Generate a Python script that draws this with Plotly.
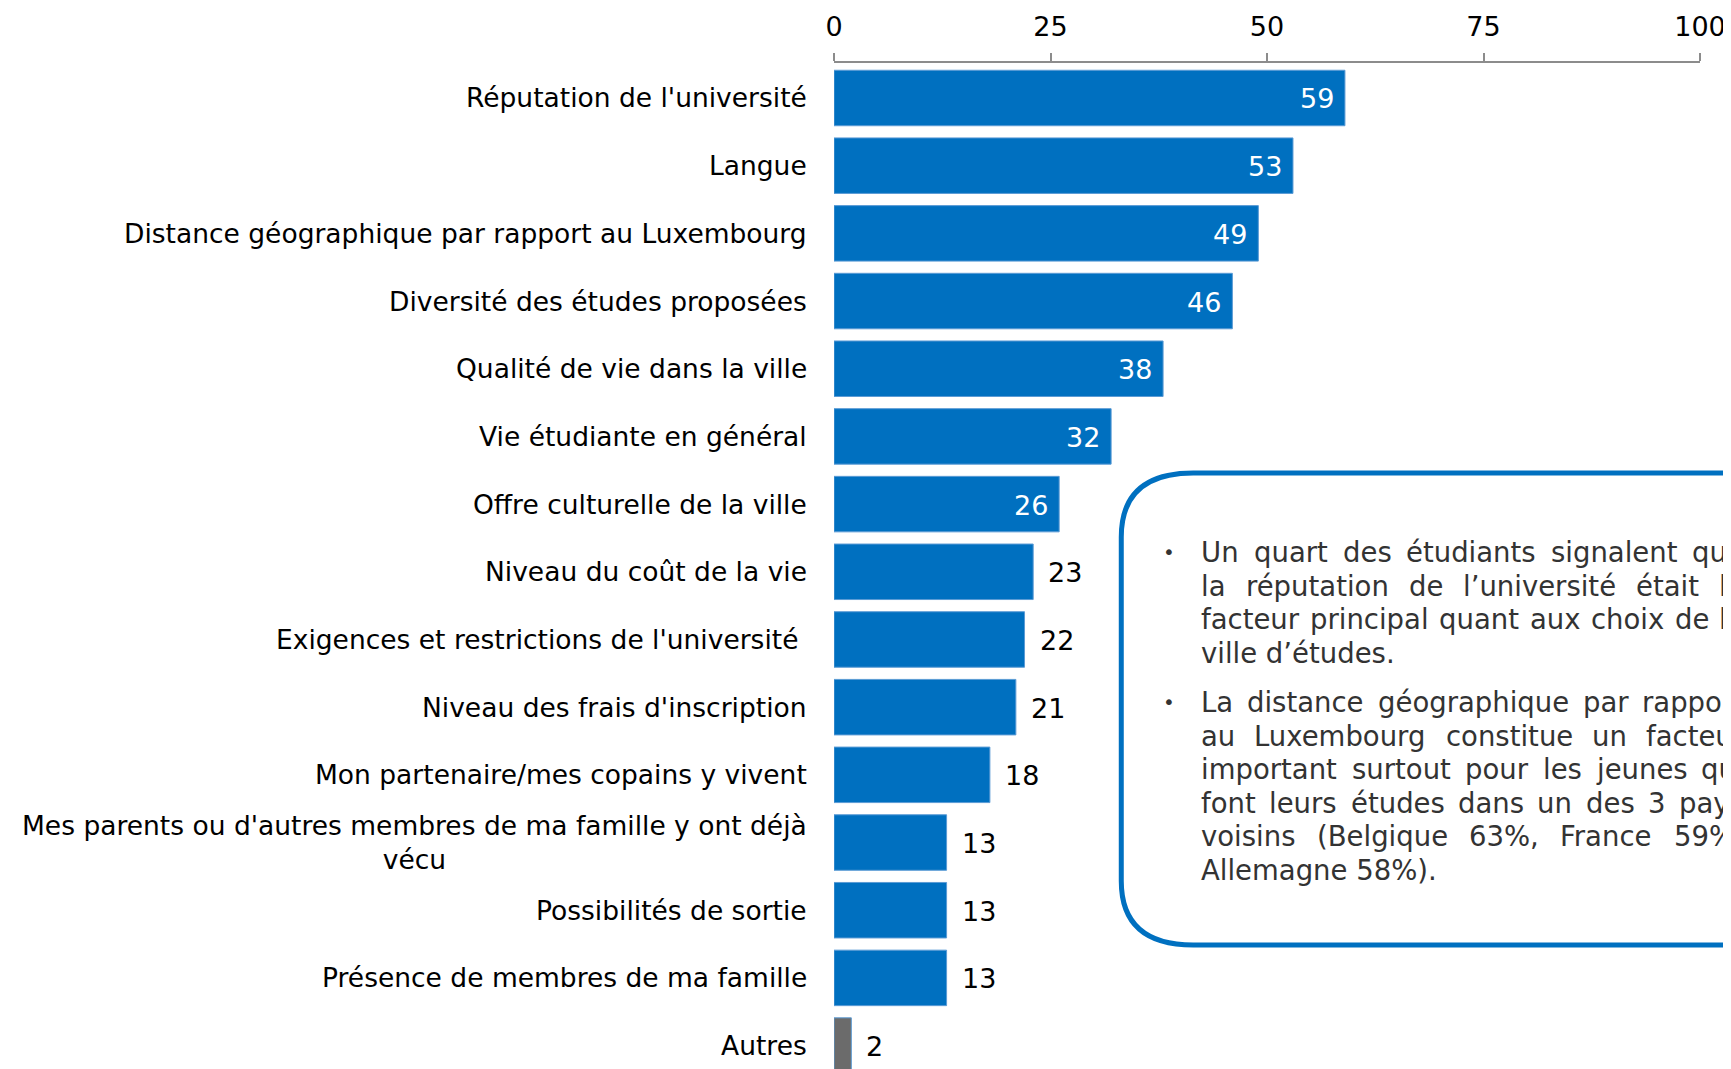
import plotly.graph_objects as go

categories = [
    "Réputation de l'université",
    "Langue",
    "Distance géographique par rapport au Luxembourg",
    "Diversité des études proposées",
    "Qualité de vie dans la ville",
    "Vie étudiante en général",
    "Offre culturelle de la ville",
    "Niveau du coût de la vie",
    "Exigences et restrictions de l'université\u00a0",
    "Niveau des frais d'inscription",
    "Mon partenaire/mes copains y vivent",
    "Mes parents ou d'autres membres de ma famille y ont déjà<br>vécu",
    "Possibilités de sortie",
    "Présence de membres de ma famille",
    "Autres",
]
values = [59, 53, 49, 46, 38, 32, 26, 23, 22, 21, 18, 13, 13, 13, 2]
x_ticks = [0, 25, 50, 75, 100]

box_para1 = [
    "Un quart des étudiants signalent que",
    "la réputation de l’université était le",
    "facteur principal quant aux choix de la",
    "ville d’études.",
]
box_para2 = [
    "La distance géographique par rapport",
    "au Luxembourg constitue un facteur",
    "important surtout pour les jeunes qui",
    "font leurs études dans un des 3 pays",
    "voisins (Belgique 63%, France 59%,",
    "Allemagne 58%).",
]

# ---- geometry (window pixel coords; page body has an 8px margin) ----
OFF = 8
WIN_W, WIN_H = 1731, 1069
W, H = WIN_W - OFF, WIN_H - OFF
X0_WIN, X100_WIN, AXIS_Y_WIN = 833.6, 1700.0, 63.0
ML = X0_WIN - OFF
MR = W - (X100_WIN - OFF)
MT = AXIS_Y_WIN - OFF
MB = 0
PW, PH = W - ML - MR, H - MT - MB
FONT = "DejaVu Sans"
BLUE = "#0070C0"


def px(xw):
    return (xw - OFF - ML) / PW


def py(yw):
    return 1 - (yw - OFF - MT) / PH


# approximate DejaVu Sans advance widths (em) for justification
CW = {
    'a': .613, 'b': .635, 'c': .550, 'd': .635, 'e': .615, 'f': .352, 'g': .635,
    'h': .634, 'i': .278, 'j': .278, 'k': .579, 'l': .278, 'm': .974, 'n': .634,
    'o': .612, 'p': .635, 'q': .635, 'r': .411, 's': .521, 't': .392, 'u': .634,
    'v': .592, 'w': .818, 'x': .592, 'y': .592, 'z': .525, 'é': .615, 'è': .615,
    'A': .684, 'B': .686, 'F': .575, 'L': .557, 'U': .732,
    '%': .950, '(': .390, ')': .390, ',': .318, '.': .318, '’': .318, ' ': .318,
}


def text_w(s, size):
    return sum(CW.get(ch, .636) for ch in s) * size


ids = list(range(len(categories)))
colors = [BLUE] * (len(values) - 1) + ["#6B6B6B"]

fig = go.Figure()
fig.add_trace(go.Bar(
    y=ids, x=values, orientation="h",
    marker=dict(color=colors, line=dict(color="#5B9BD5", width=1)),
    hoverinfo="x+text", hovertext=categories,
))

LBL = 26.5
NUM = 27
annotations = []
for i, (c, v) in enumerate(zip(categories, values)):
    annotations.append(dict(
        x=px(809), xref="paper", y=i, yref="y", text=c, showarrow=False,
        xanchor="right", yanchor="middle", align="center",
        font=dict(family=FONT, size=LBL, color="#000000"),
    ))
    inside = v >= 26
    annotations.append(dict(
        x=v, xref="x", y=i, yref="y", text=str(v), showarrow=False,
        xanchor="right" if inside else "left",
        xshift=-9 if inside else 13, yshift=-1,
        yanchor="middle",
        font=dict(family=FONT, size=NUM, color="#FFFFFF" if inside else "#000000"),
    ))

# ---- text box ----
BOX_FS = 27.5
TX = 1199          # text left (window)
TR = 1742          # justified right edge (window)
BX = 1169          # bullet x
STEP = 33.6
P1_Y, P2_Y = 552, 702
TXT_COL = "#333333"


def add_para(lines, ytop):
    for k, line in enumerate(lines):
        yc = py(ytop + k * STEP)
        last = (k == len(lines) - 1)
        words = line.split(" ")
        if last or len(words) < 2:
            annotations.append(dict(
                x=px(TX), xref="paper", y=yc, yref="paper", text=line,
                showarrow=False, xanchor="left", yanchor="middle",
                font=dict(family=FONT, size=BOX_FS, color=TXT_COL)))
            continue
        ww = [text_w(w, BOX_FS) for w in words]
        gap = (TR - TX - sum(ww)) / (len(words) - 1)
        gap = max(gap, CW[' '] * BOX_FS)
        xcur = TX
        for w, wpx in zip(words, ww):
            annotations.append(dict(
                x=px(xcur), xref="paper", y=yc, yref="paper", text=w,
                showarrow=False, xanchor="left", yanchor="middle",
                font=dict(family=FONT, size=BOX_FS, color=TXT_COL)))
            xcur += wpx + gap
    annotations.append(dict(
        x=px(BX), xref="paper", y=py(ytop), yref="paper", text="•",
        showarrow=False, xanchor="center", yanchor="middle",
        font=dict(family=FONT, size=20, color=TXT_COL)))


add_para(box_para1, P1_Y)
add_para(box_para2, P2_Y)

L, R, T, B, rx, ry = 1121, 1820, 473, 945, 72, 64


def pt(xw, yw):
    return f"{px(xw):.5f},{py(yw):.5f}"


path = (
    f"M {pt(L + rx, T)} L {pt(R - rx, T)} Q {pt(R, T)} {pt(R, T + ry)} "
    f"L {pt(R, B - ry)} Q {pt(R, B)} {pt(R - rx, B)} "
    f"L {pt(L + rx, B)} Q {pt(L, B)} {pt(L, B - ry)} "
    f"L {pt(L, T + ry)} Q {pt(L, T)} {pt(L + rx, T)} Z"
)
shapes = [dict(type="path", path=path, xref="paper", yref="paper",
               line=dict(color=BLUE, width=5), fillcolor="rgba(0,0,0,0)")]

fig.update_layout(
    width=W, height=H,
    margin=dict(l=ML, r=MR, t=MT, b=MB, pad=0),
    paper_bgcolor="white", plot_bgcolor="white",
    showlegend=False, bargap=0.18,
    annotations=annotations, shapes=shapes,
    font=dict(family=FONT, size=LBL, color="#000000"),
    xaxis=dict(
        side="top", range=[0, 100], tickvals=x_ticks,
        showgrid=False, zeroline=False,
        showline=True, linecolor="#8C8C8C", linewidth=1.5,
        ticks="outside", ticklen=8, tickcolor="#8C8C8C", tickwidth=1.5,
        ticklabelstandoff=6,
        tickfont=dict(family=FONT, size=NUM, color="#000000"),
        fixedrange=True,
    ),
    yaxis=dict(
        range=[14.346, -0.517], showticklabels=False, showgrid=False,
        zeroline=False, showline=False, ticks="", fixedrange=True,
    ),
)

fig.write_html("out.html")
